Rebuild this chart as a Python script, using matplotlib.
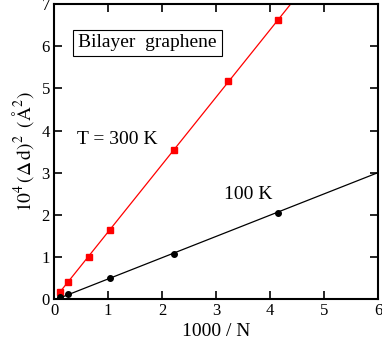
import numpy as np
import matplotlib
matplotlib.use("Agg")
from matplotlib import pyplot as plt

plt.rcParams['font.family'] = ['Liberation Serif', 'DejaVu Serif']
plt.rcParams['mathtext.fontset'] = 'stix'

# 1000/N values and 10^4 (Delta d)^2 values
x_300 = [0.12, 0.26, 0.64, 1.04, 2.23, 3.22, 4.14]
y_300 = [0.17, 0.41, 1.00, 1.64, 3.55, 5.17, 6.62]
x_100 = [0.12, 0.26, 1.04, 2.23, 4.14]
y_100 = [0.04, 0.12, 0.51, 1.08, 2.05]

# fitted straight lines (slope, intercept)
fit_300 = (1.60, -0.01)
fit_100 = (0.505, -0.03)

fig = plt.figure(figsize=(3.82, 3.40), dpi=100)
ax = fig.add_axes([0.1414, 0.1206, 0.848, 0.867])

xl = np.array([x_300[0], 6.0])
ax.plot(xl, fit_300[0] * xl + fit_300[1], color='red', lw=0.9)
ax.plot(x_300, y_300, 's', color='red', ms=4, mec='red')
xl = np.array([x_100[0], 6.0])
ax.plot(xl, fit_100[0] * xl + fit_100[1], color='black', lw=0.9)
ax.plot(x_100, y_100, 'o', color='black', ms=4)

ax.set_xlim(0, 6)
ax.set_ylim(0, 7)
ax.set_xticks(range(0, 7))
ax.set_yticks(range(0, 8))
ax.tick_params(direction='in', length=6, width=1.2, top=True, right=True,
               labelsize=12, pad=3)
for s in ax.spines.values():
    s.set_linewidth(1.5)

ax.set_xlabel('1000 / N', fontsize=14, labelpad=3)
ax.set_ylabel(r'$10^4\,(\Delta\,\mathrm{d})^2\;\;(\mathrm{\AA}^2)$', fontsize=14, labelpad=4)

ax.text(0.45, 6.08, 'Bilayer  graphene', fontsize=14, va='center', ha='left',
        bbox=dict(boxstyle='square,pad=0.25', fc='white', ec='black', lw=0.8))
ax.text(0.42, 3.79, 'T = 300 K', fontsize=14, va='center')
ax.text(3.15, 2.48, '100 K', fontsize=14, va='center')

fig.savefig('out.png', dpi=100)
